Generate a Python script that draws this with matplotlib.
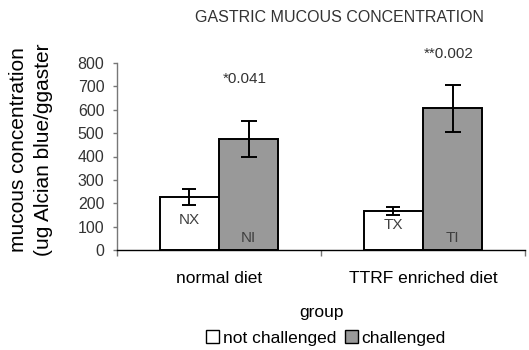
import numpy as np
import matplotlib
matplotlib.use("Agg")
import matplotlib.pyplot as plt
from matplotlib.patches import Patch

plt.rcParams["font.family"] = ["Liberation Sans", "DejaVu Sans"]

# ─── Data ─────────────────────────────────────────────────────────────────────
groups = ["normal diet", "TTRF enriched diet"]
series = ["not challenged", "challenged"]
not_challenged = [227, 167]
not_challenged_err = [35, 16]
challenged = [475, 606]
challenged_err = [79, 102]
bar_tags_nc = ["NX", "TX"]
bar_tags_c = ["NI", "TI"]
p_labels = ["*0.041", "**0.002"]
y_ticks = [0, 100, 200, 300, 400, 500, 600, 700, 800]

# ─── Figure ───────────────────────────────────────────────────────────────────
fig = plt.figure(figsize=(5.29, 3.5), dpi=100)
ax = fig.add_axes([117 / 529, 1 - 250 / 350, (525 - 117) / 529, (250 - 63) / 350])

x = np.arange(len(groups))
w = 0.29
ax.bar(x - w / 2, not_challenged, w, color="white", edgecolor="black",
       linewidth=1.4, zorder=2)
ax.bar(x + w / 2, challenged, w, color="#999999", edgecolor="black",
       linewidth=1.4, zorder=2)
ax.errorbar(x - w / 2, not_challenged, yerr=not_challenged_err, fmt="none",
            ecolor="black", elinewidth=1.4, capsize=5, capthick=1.4, zorder=3)
ax.errorbar(x + w / 2, challenged, yerr=challenged_err, fmt="none",
            ecolor="black", elinewidth=1.4, capsize=6, capthick=1.4, zorder=3)

# labels inside the bars
for xi, tag in zip(x - w / 2, bar_tags_nc):
    ax.text(xi, 128 if tag == "NX" else 106, tag, ha="center", va="center",
            fontsize=11, color="#404040", zorder=4)
for xi, tag in zip(x + w / 2, bar_tags_c):
    ax.text(xi, 50, tag, ha="center", va="center", fontsize=11,
            color="#404040", zorder=4)

# p-values
ax.text(x[0] + w / 2 - 0.02, 732, p_labels[0], ha="center", va="center",
        fontsize=11, color="#333333", clip_on=False)
ax.text(x[1] + w / 2 - 0.02, 840, p_labels[1], ha="center", va="center",
        fontsize=11, color="#333333", clip_on=False)

ax.set_xlim(-0.5, 1.5)
ax.set_ylim(0, 800)
ax.set_yticks(y_ticks)
ax.set_yticklabels([str(v) for v in y_ticks], fontsize=11.5, color="#333333")
ax.tick_params(axis="y", direction="out", length=3, width=1, color="#777777", pad=6)

ax.set_xticks(x)
ax.set_xticklabels(groups, fontsize=12.5)
ax.tick_params(axis="x", which="major", length=0, pad=15)
ax.set_xticks([-0.5, 0.5, 1.5], minor=True)
ax.tick_params(axis="x", which="minor", direction="out", length=4, width=1,
               color="#777777")

for s in ["top", "right"]:
    ax.spines[s].set_visible(False)
ax.spines["left"].set_color("#777777")
ax.spines["left"].set_linewidth(1)
ax.spines["bottom"].set_color("black")
ax.spines["bottom"].set_linewidth(1)

# titles / labels
fig.text(339 / 529, 1 - 18 / 350, "GASTRIC MUCOUS CONCENTRATION",
         ha="center", va="center", fontsize=11.5, color="#333333")
fig.text(19 / 529, 1 - 150 / 350, "mucous concentration", rotation=90,
         ha="center", va="center", fontsize=15)
fig.text(44 / 529, 1 - 150 / 350, "(ug Alcian blue/ggaster", rotation=90,
         ha="center", va="center", fontsize=15)
fig.text(321 / 529, 1 - 312 / 350, "group", ha="center", va="center", fontsize=12.5)

handles = [Patch(facecolor="white", edgecolor="black", linewidth=1),
           Patch(facecolor="#999999", edgecolor="black", linewidth=1)]
fig.legend(handles, series, loc="center", bbox_to_anchor=(326 / 529, 1 - 338 / 350),
           ncol=2, frameon=False, fontsize=12.5, handlelength=0.75, handleheight=0.75,
           handletextpad=0.2, columnspacing=0.5, borderpad=0)

fig.savefig("out.png", dpi=100, facecolor="white")
